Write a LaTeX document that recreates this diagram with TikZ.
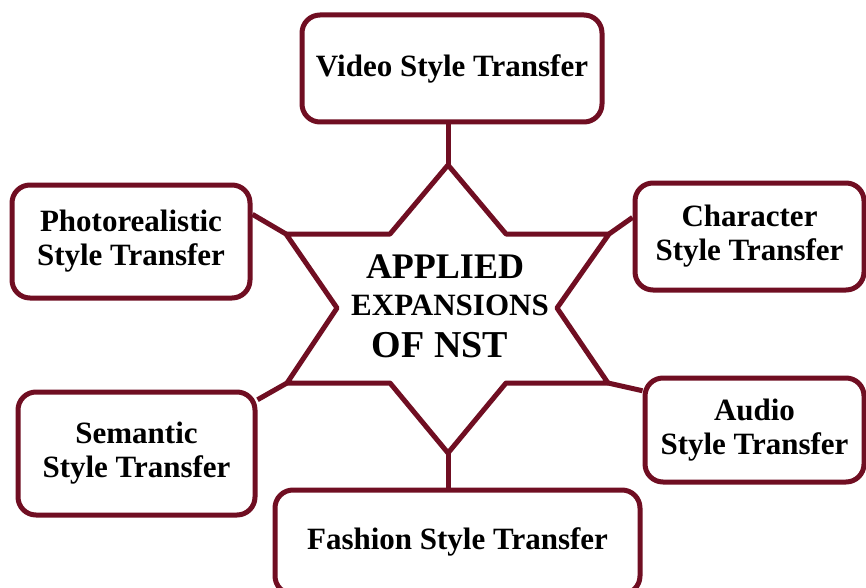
\documentclass[tikz,border=0pt]{standalone}
\usepackage{fontspec}
\setmainfont{Liberation Serif}
\usetikzlibrary{calc}
\definecolor{maroon}{RGB}{112,14,34}
\begin{document}
\begin{tikzpicture}[x=1pt,y=-1pt,
  line/.style={draw=maroon,line width=5pt,line join=round},
  box/.style={line,rounded corners=18pt,inner sep=0pt,align=center,
    font=\bfseries\fontsize{31}{34}\selectfont},
  ctext/.style={anchor=base,inner sep=0pt,font=\bfseries}]
\useasboundingbox (0,0) rectangle (866,588);
\clip (0,0) rectangle (866,588);
\fill[white] (0,0) rectangle (866,588);

% boxes
\node[box,minimum width=300pt,minimum height=107pt] (video) at (452,68.5) {Video Style Transfer};
\node[box,minimum width=238pt,minimum height=113pt] (photo) at (131,241.5) {Photorealistic\\Style Transfer};
\node[box,minimum width=229pt,minimum height=107pt] (char) at (749.5,236.5) {Character\\Style Transfer};
\node[box,minimum width=219pt,minimum height=104pt] (audio) at (754.5,430) {Audio\\Style Transfer};
\node[box,minimum width=237pt,minimum height=123pt] (sem) at (136.5,453.5) {Semantic\\Style Transfer};
\node[box,minimum width=365pt,minimum height=104pt] (fashion) at (457.5,542) {Fashion Style Transfer};

% star
\coordinate (T) at (448,165);
\coordinate (B) at (448,453);
\coordinate (UL) at (286,234);
\coordinate (UR) at (609,234);
\coordinate (LL) at (287,383);
\coordinate (LR) at (608,383);
\coordinate (i1) at (390,234);
\coordinate (i2) at (506,234);
\coordinate (i3) at (557,308);
\coordinate (i4) at (506,383);
\coordinate (i5) at (390,383);
\coordinate (i6) at (337,308);
\draw[line] (T) -- (i2) -- (UR) -- (i3) -- (LR) -- (i4) -- (B) -- (i5) -- (LL) -- (i6) -- (UL) -- (i1) -- cycle;

% centre text
\node[ctext,font=\bfseries\fontsize{36}{36}\selectfont] (t1) at (445,278) {APPLIED};
\node[ctext,font=\bfseries\fontsize{31}{31}\selectfont] (t2) at (450,315) {EXPANSIONS};
\node[ctext,font=\bfseries\fontsize{38}{38}\selectfont] (t3) at (440,357) {OF NST};

% connectors
\draw[line] (video.south -| T) -- (T);
\draw[line] (fashion.north -| B) -- (B);
\draw[line] ($(photo.north east)!0.27!(photo.south east)$) -- (UL);
\draw[line] ($(char.north west)!0.33!(char.south west)$) -- (UR);
\draw[line] ($(sem.north east)!0.08!(sem.south east)$) -- (LL);
\draw[line] ($(audio.north west)!0.14!(audio.south west)$) -- (LR);
\end{tikzpicture}
\end{document}
